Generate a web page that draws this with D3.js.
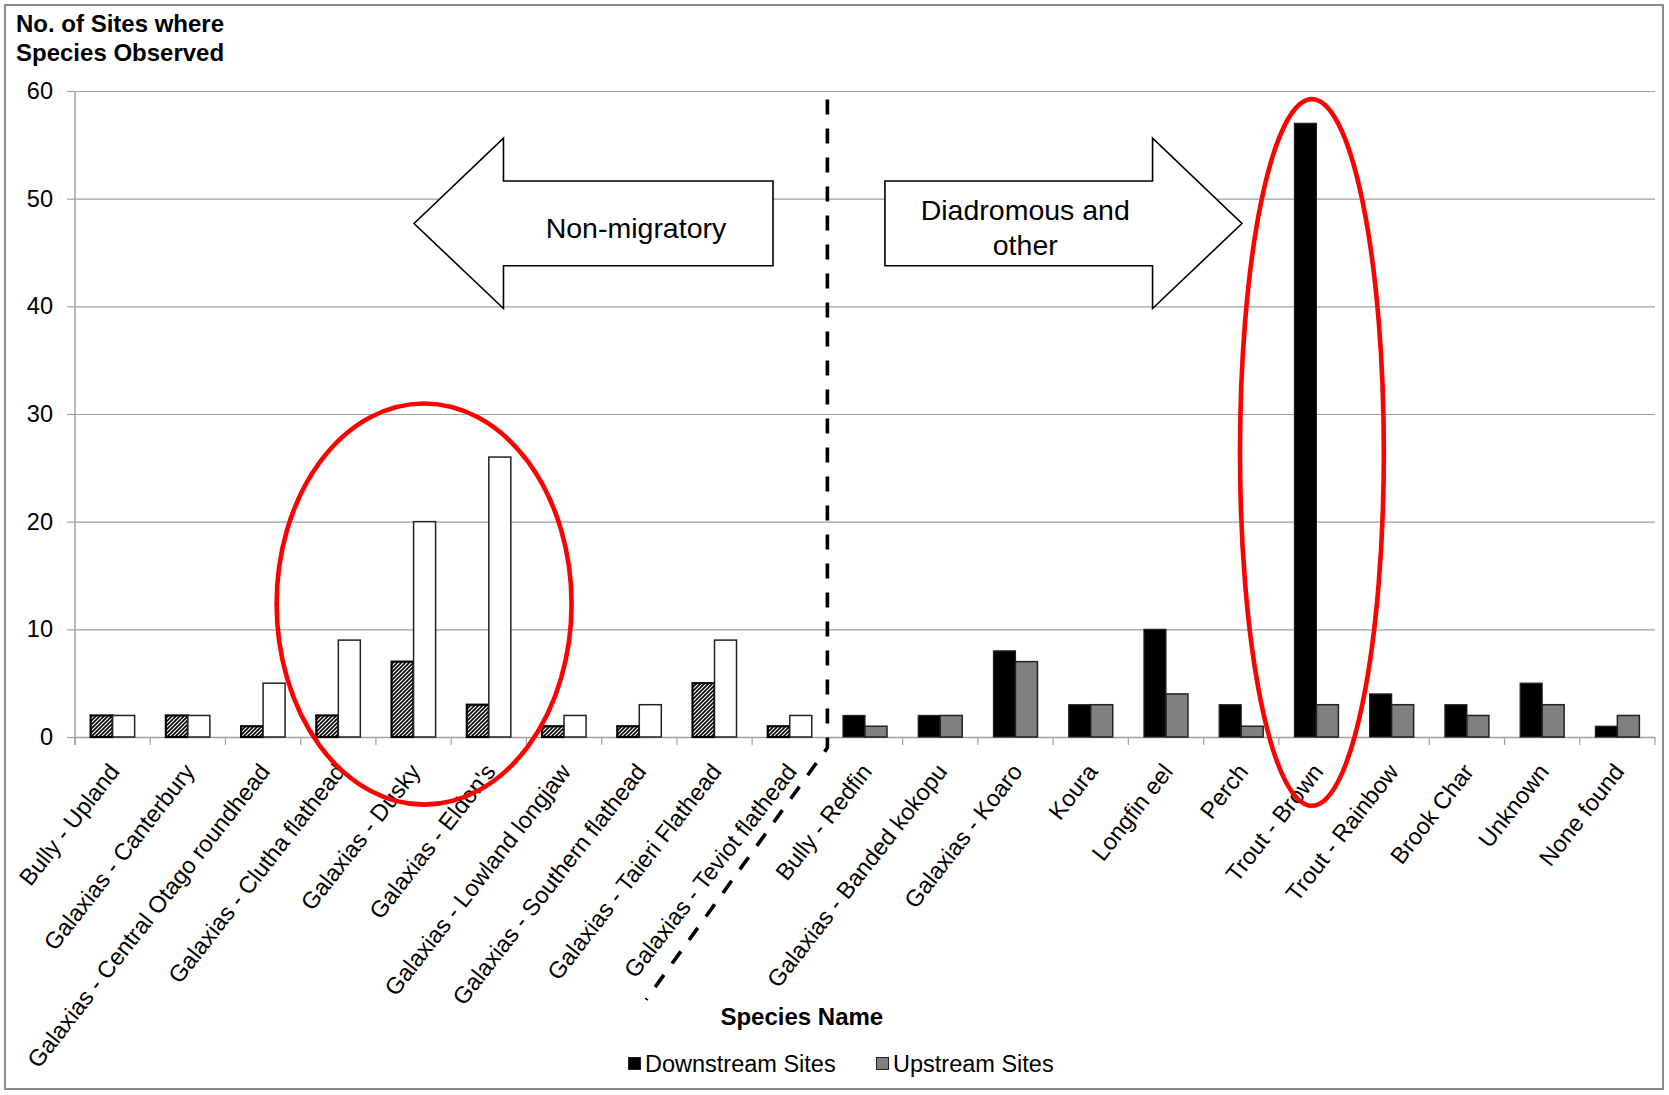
<!DOCTYPE html>
<html><head><meta charset="utf-8">
<script src="https://cdn.jsdelivr.net/npm/d3@7"></script>
<style>
body{margin:0;background:#fff}
svg{display:block}
text{font-family:"Liberation Sans",Arial,Helvetica,sans-serif;fill:#000}
</style>
</head><body>
<svg id="c" width="1669" height="1095"></svg>
<script>
const categories = [
  "Bully - Upland","Galaxias - Canterbury","Galaxias - Central Otago roundhead",
  "Galaxias - Clutha flathead","Galaxias - Dusky","Galaxias - Eldon's",
  "Galaxias - Lowland longjaw","Galaxias - Southern flathead","Galaxias - Taieri Flathead",
  "Galaxias - Teviot flathead","Bully - Redfin","Galaxias - Banded kokopu",
  "Galaxias - Koaro","Koura","Longfin eel","Perch","Trout - Brown",
  "Trout - Rainbow","Brook Char","Unknown","None found"
];
const downstream = [2,2,1,2,7,3,1,1,5,1, 2,2,8,3,10,3,57,4,3,5,1];
const upstream   = [2,2,5,9,20,26,2,3,9,2, 1,2,7,3,4,1,3,3,2,3,2];
const nonMigratoryCount = 10;
const yTicks = [0,10,20,30,40,50,60];
const seriesNames = ["Downstream Sites","Upstream Sites"];
const yTitle = ["No. of Sites where","Species Observed"];
const xTitle = "Species Name";
const groupLabels = [["Non-migratory"],["Diadromous and","other"]];

const svg = d3.select("#c");
const plot = {left:75, right:1655, top:91, bottom:737};
const FONT = 23.5;

const x0 = d3.scaleBand().domain(categories).range([plot.left, plot.right]).padding(0);
const x1 = d3.scaleBand().domain(["down","up"]).range([0, x0.bandwidth()]).paddingInner(0).paddingOuter(0.71);
const y = d3.scaleLinear().domain([0,60]).range([plot.bottom, plot.top]);
const bx = u => plot.left + u * x0.step();

// defs: hatch pattern
const defs = svg.append("defs");
const pat = defs.append("pattern").attr("id","hatch").attr("patternUnits","userSpaceOnUse")
  .attr("width",4).attr("height",4);
pat.append("rect").attr("width",4).attr("height",4).attr("fill","#fff");
pat.append("path").attr("d","M-1,1 l2,-2 M0,4 l4,-4 M3,5 l2,-2")
  .attr("stroke","#000").attr("stroke-width",1.6);

// outer border
svg.append("rect").attr("x",5).attr("y",5).attr("width",1658).attr("height",1084)
  .attr("fill","none").attr("stroke","#8c8c8c").attr("stroke-width",2);

// gridlines
svg.append("g").selectAll("line").data(yTicks.filter(d=>d>0)).join("line")
  .attr("x1",plot.left).attr("x2",plot.right)
  .attr("y1",d=>y(d)+0.5).attr("y2",d=>y(d)+0.5)
  .attr("stroke","#a0a0a0").attr("stroke-width",1.2);

// y axis
const yAxis = svg.append("g").attr("transform",`translate(${plot.left},0)`)
  .call(d3.axisLeft(y).tickValues(yTicks).tickSize(8).tickPadding(14).tickFormat(d3.format("d")));
yAxis.select(".domain").remove();
yAxis.selectAll(".tick line").attr("stroke","#a0a0a0").attr("stroke-width",1.2);
yAxis.selectAll(".tick text").attr("font-size",FONT).attr("font-family","Liberation Sans, Arial, sans-serif").attr("fill","#000");
svg.append("line").attr("x1",plot.left).attr("x2",plot.left).attr("y1",plot.top).attr("y2",plot.bottom+8)
  .attr("stroke","#a0a0a0").attr("stroke-width",1.5);

// x axis baseline and boundary ticks
svg.append("line").attr("x1",plot.left).attr("x2",plot.right).attr("y1",plot.bottom+0.5).attr("y2",plot.bottom+0.5)
  .attr("stroke","#a0a0a0").attr("stroke-width",1.5);
const bounds = categories.map(c=>x0(c)).concat([plot.right]);
svg.append("g").selectAll("line").data(bounds).join("line")
  .attr("x1",d=>d).attr("x2",d=>d).attr("y1",plot.bottom).attr("y2",plot.bottom+8)
  .attr("stroke","#a0a0a0").attr("stroke-width",1.2);

// arrows (annotation)
const arrowL = [[4.506,47.69],[5.695,55.63],[5.695,51.64],[9.277,51.64],[9.277,43.77],[5.695,43.77],[5.695,39.80]];
const arrowR = [[10.765,51.64],[14.322,51.64],[14.322,55.63],[15.51,47.69],[14.322,39.80],[14.322,43.77],[10.765,43.77]];
[arrowL, arrowR].forEach(pts=>{
  svg.append("polygon").attr("points", pts.map(p=>[bx(p[0]), y(p[1])].join(",")).join(" "))
    .attr("fill","#fff").attr("stroke","#000").attr("stroke-width",1.6);
});
svg.append("text").attr("x",bx(7.456)).attr("y",y(46.35)).attr("text-anchor","middle")
  .attr("font-size",28.5).text(groupLabels[0][0]);
groupLabels[1].forEach((t,i)=>{
  svg.append("text").attr("x",bx(12.63)).attr("y",y(i===0?48.02:44.77)).attr("text-anchor","middle")
    .attr("font-size",28.5).text(t);
});

// bars
const rows = categories.map((c,i)=>({cat:c, i, down:downstream[i], up:upstream[i]}));
const g = svg.append("g");
rows.forEach(r=>{
  const nonMig = r.i < nonMigratoryCount;
  g.append("rect")
    .attr("x", x0(r.cat)+x1("down")).attr("width", x1.bandwidth())
    .attr("y", y(r.down)).attr("height", y(0)-y(r.down))
    .attr("fill", nonMig ? "url(#hatch)" : "#000")
    .attr("stroke", nonMig ? "#000" : "#222").attr("stroke-width", nonMig ? 2.2 : 1.2);
  g.append("rect")
    .attr("x", x0(r.cat)+x1("up")).attr("width", x1.bandwidth())
    .attr("y", y(r.up)).attr("height", y(0)-y(r.up))
    .attr("fill", nonMig ? "#fff" : "#808080")
    .attr("stroke", "#222").attr("stroke-width", 1.5);
});

// x tick labels
svg.append("g").selectAll("text").data(categories).join("text")
  .attr("transform", d=>`translate(${x0(d)+x0.bandwidth()/2+8},772) rotate(-52)`)
  .attr("text-anchor","end").attr("font-size",FONT).text(d=>d);

// dashed separator
const sep = [[10, 59.2],[10,-1],[7.59,-24.4]];
svg.append("path").attr("d", d3.line()(sep.map(p=>[bx(p[0]), y(p[1])])))
  .attr("fill","none").attr("stroke","#000").attr("stroke-width",3.6).attr("stroke-dasharray","15,14");

// titles
svg.append("text").attr("x",16).attr("y",32).attr("font-size",24).attr("font-weight","bold").text(yTitle[0]);
svg.append("text").attr("x",16).attr("y",61).attr("font-size",24).attr("font-weight","bold").text(yTitle[1]);
svg.append("text").attr("x",bx(9.66)).attr("y",1025).attr("text-anchor","middle")
  .attr("font-size",24).attr("font-weight","bold").text(xTitle);

// legend
const legend = [{name:seriesNames[0], fill:"#000", x:628},{name:seriesNames[1], fill:"#808080", x:876}];
legend.forEach(l=>{
  svg.append("rect").attr("x",l.x+0.5).attr("y",1057.5).attr("width",12).attr("height",12)
    .attr("fill",l.fill).attr("stroke","#222").attr("stroke-width",1);
  svg.append("text").attr("x",l.x+17).attr("y",1072).attr("font-size",FONT).text(l.name);
});

// red ellipses
const ellipses = [{c:4.64, v:12.35, rx:1.96, ry:18.63},{c:16.44, v:26.43, rx:0.956, ry:32.82}];
svg.append("g").selectAll("ellipse").data(ellipses).join("ellipse")
  .attr("cx",d=>bx(d.c)).attr("cy",d=>y(d.v))
  .attr("rx",d=>d.rx*x0.step()).attr("ry",d=>y(0)-y(d.ry))
  .attr("fill","none").attr("stroke","#ff0000").attr("stroke-width",4.6);
</script>
</body></html>
